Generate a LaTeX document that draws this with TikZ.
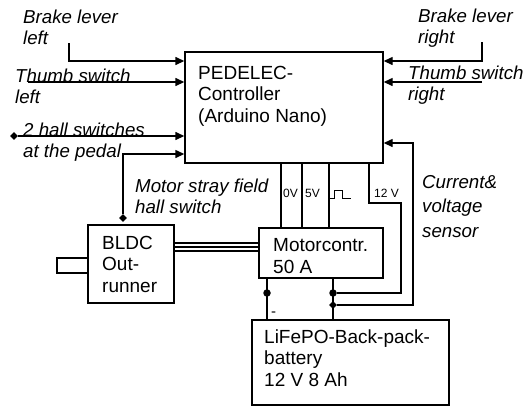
\documentclass[tikz,border=0pt]{standalone}
\usepackage{fontspec}
\setmainfont{Liberation Sans}
\usetikzlibrary{arrows.meta, shapes.geometric}

\tikzset{
  box/.style={draw, line width=1.4pt, inner sep=0pt},
  txt/.style={anchor=base west, align=left, inner sep=0pt, font=\fontsize{19}{21.5}\selectfont},
  lbl/.style={txt, font=\fontsize{18.7}{21}\selectfont\itshape},
  small/.style={anchor=base west, inner sep=0pt, font=\fontsize{12}{14}\selectfont},
  wire/.style={line width=1.4pt},
  sig/.style={wire, -{Triangle[length=9pt,width=8pt]}},
  dot/.style={circle, fill, inner sep=0pt, minimum size=7.5pt},
  junc/.style={diamond, fill, inner sep=0pt, minimum size=8pt},
}

\begin{document}
\begin{tikzpicture}[x=1pt, y=-1pt]
			\useasboundingbox (0,0) rectangle (527,410);
			
			\node[box, minimum width=31pt, minimum height=15pt] (shaft) at (72.5,265.5) {};
			\node[box, fill=white, minimum width=198pt, minimum height=111pt] (ctrl) at (284,107.5) {};
			\node[box, fill=white, minimum width=86pt, minimum height=78pt] (bldc) at (131,264) {};
			\node[box, minimum width=124pt, minimum height=50pt] (mc) at (321,253) {};
			\node[box, minimum width=197pt, minimum height=85pt] (bat) at (350.5,362.5) {};
			
			\node[txt] (tctrl) at (198,122) {PEDELEC-\\Controller\\(Arduino Nano)};
			\node[txt] (tbldc) at (102,292) {BLDC\\Out-\\runner};
			\node[txt] (tmc) at (273,273) {Motorcontr.\\50 A};
			\node[txt] (tbat) at (264,386) {LiFePO-Back-pack-\\battery\\12 V 8 Ah};
			
			\node[lbl] (bl) at (23,44) {Brake lever\\left};
			\node[lbl] (tl) at (15,103) {Thumb switch\\left};
			\node[lbl] (hl) at (23,157) {2 hall switches\\at the pedal};
			\node[lbl] (br) at (418,43) {Brake lever\\right};
			\node[lbl] (tr) at (408,100) {Thumb switch\\right};
			\node[lbl] (ms) at (135,213) {Motor stray field\\hall switch};
			\node[lbl, font=\fontsize{18.7}{24.5}\selectfont\itshape] (cv) at (422,237) {Current\&\\voltage\\sensor};
			
			\node[small] (v0) at (283,197) {0V};
			\node[small] (v5) at (305,197) {5V};
			\node[small] (v12) at (374,197) {12 V};
			\node[small, font=\fontsize{15}{17}\selectfont] (neg) at (271,316) {-};
			
			\coordinate (bls) at (69,43);
			\coordinate (tls) at (28,82);
			\coordinate (brs) at (482,42);
			\coordinate (trs) at (482,82);
			\coordinate (w0) at (281,190);
			\coordinate (w5) at (302,190);
			\coordinate (wp) at (329,190);
			\coordinate (w12) at (369,203);
			\coordinate (w12b) at (401,203);
			\coordinate (cs) at (413,305);
			
			\node[junc] (dm1) at (14,136) {};
			\node[junc] (dm2) at (123,218) {};
			\node[dot] (dt1) at (267,293) {};
			\node[dot] (dt2) at (333,293) {};
			
			\draw[sig] (bls) |- (ctrl.west |- 0,61);
			\draw[sig] (tls) -- (ctrl.west |- tls);
			\draw[sig] (dm1) -- (ctrl.west |- dm1);
			\draw[sig] (dm2) |- (ctrl.west |- 0,154);
			\draw[sig] (brs) |- (ctrl.east |- 0,61);
			\draw[sig] (trs) -- (ctrl.east |- trs);
			
			\draw[wire] (ctrl.south -| w0) -- (mc.north -| w0);
			\draw[wire] (ctrl.south -| w5) -- (mc.north -| w5);
			\draw[wire] (ctrl.south -| wp) -- (mc.north -| wp);
			\draw[wire] (ctrl.south -| w12) -- (w12) -- (w12b) |- (dt2);
			\draw[line width=1pt] (330,198) -- (334,198) -- (334,190) -- (342,190) -- (342,198) -- (351,198);
			
			\draw[wire] (mc.south -| dt1) -- (bat.north -| dt1);
			\draw[wire] (mc.south -| dt2) -- (bat.north -| dt2);
			\node[junc] (dm3) at (333,305) {};
			\draw[sig] (dm3) -- (cs) |- (ctrl.east |- 0,143);
			
			\draw[wire] (bldc.east |- 0,243) -- (mc.west |- 0,243);
			\draw[wire] (bldc.east |- 0,247) -- (mc.west |- 0,247);
			\draw[wire] (bldc.east |- 0,251) -- (mc.west |- 0,251);
			\end{tikzpicture}
\end{document}
